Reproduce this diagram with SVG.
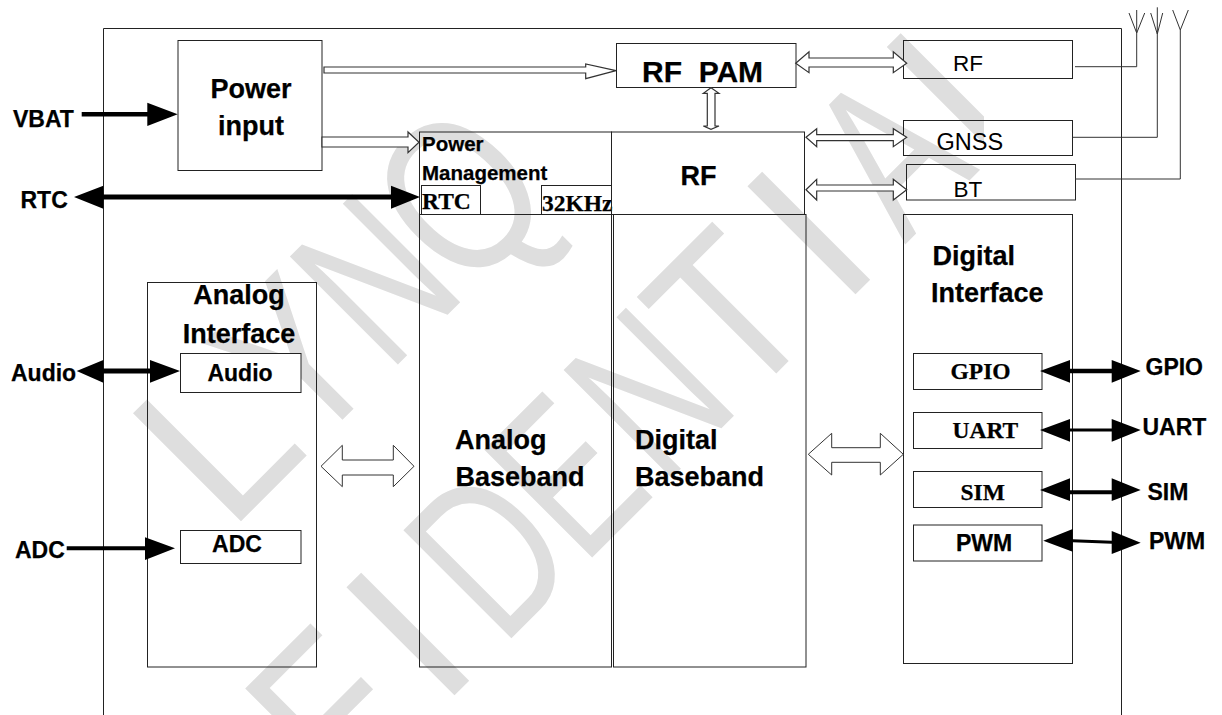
<svg xmlns="http://www.w3.org/2000/svg" width="1222" height="715" viewBox="0 0 1222 715">
<style>
rect,.box{fill:none;stroke:#222;stroke-width:1}
rect.o{fill:#fff}
.h{fill:#fff;stroke:#333;stroke-width:1.2}
.k{fill:#000;stroke:none}
.w{fill:none;stroke:#333;stroke-width:1}
text{font-family:"Liberation Sans",Arial,sans-serif;fill:#000;stroke:#000;stroke-width:.25}
text.wm{font-size:222px;fill:#dedede;stroke:none}
.b{font-weight:bold}
.s{font-family:"Liberation Serif","Times New Roman",serif;font-weight:bold;font-size:23.5px}
.f27{font-size:27px}.f23{font-size:23px}
</style>
<defs><clipPath id="wmclip"><rect x="0" y="0" width="984" height="715"/></clipPath></defs>
<g id="watermark" clip-path="url(#wmclip)">
<g transform="rotate(-45)">
<text class="wm" transform="translate(-215.400 539) scale(.95 1)">L</text>
<text class="wm" transform="translate(-103 539) scale(.76 1)">Y</text>
<text class="wm" transform="translate(10.600 539) scale(.71 1)">N</text>
<text class="wm" transform="translate(119.500 539) scale(.78 1)">Q</text>
<text class="wm" transform="translate(-329 813) scale(.85 1)">F</text>
<text class="wm" transform="translate(-190.600 813)">I</text>
<text class="wm" transform="translate(-103 813) scale(.73 1)">D</text>
<text class="wm" transform="translate(11.400 813) scale(.71 1)">E</text>
<text class="wm" transform="translate(124 813) scale(.71 1)">N</text>
<text class="wm" transform="translate(236 813) scale(.85 1)">T</text>
<text class="wm" transform="translate(376.500 813)">I</text>
<text class="wm" transform="translate(467 813) scale(.72 1)">A</text>
<text class="wm" transform="translate(576.600 813) scale(.95 1)">L</text>
</g>
</g>
<g id="module"><path class="box" d="M103.5 715V28.5H1121.5V715"/></g>
<g id="power-input"><rect x="178" y="40.5" width="144" height="130"/><text class="b f27" x="251" y="98" text-anchor="middle">Power</text><text class="b f27" x="251" y="135" text-anchor="middle">input</text></g>
<g id="rf-pam"><rect x="616.5" y="43.5" width="179.500" height="44"/><text class="b" font-size="30" x="642" y="81.500" xml:space="preserve">RF  PAM</text></g>
<g id="rf-out"><rect x="903.500" y="40.500" width="169" height="38"/><text font-size="22.500" x="953" y="71" style="stroke:none">RF</text></g>
<g id="gnss"><rect x="903.500" y="120.500" width="169" height="35"/><text font-size="23.500" x="936.500" y="150" style="stroke:none">GNSS</text></g>
<g id="bt"><rect x="906.500" y="164.500" width="169" height="35.500"/><text font-size="22.500" x="953.500" y="196.500" style="stroke:none">BT</text></g>
<g id="power-management"><rect x="419.500" y="132" width="192" height="82.500"/><text class="b" font-size="20.500" x="422" y="150.500">Power</text><text class="b" font-size="20.500" x="422" y="180">Management</text></g>
<g id="rtc-block"><rect class="o" x="421.500" y="185.500" width="59" height="29"/><text class="s" x="422" y="209">RTC</text></g>
<g id="khz-block"><rect class="o" x="541.500" y="185.500" width="70" height="29"/><text class="s" x="542" y="210.500">32KHz</text></g>
<g id="rf-core"><rect x="611.500" y="132" width="193" height="82.500"/><text class="b f27" x="680.500" y="185">RF</text></g>
<g id="analog-baseband"><rect x="419.500" y="214.500" width="192" height="452.500"/><text class="b f27" x="455" y="449">Analog</text><text class="b f27" x="455.500" y="486">Baseband</text></g>
<g id="digital-baseband"><rect x="613.500" y="214.500" width="192.500" height="452.500"/><text class="b f27" x="635" y="449">Digital</text><text class="b f27" x="635" y="486">Baseband</text></g>
<g id="analog-interface"><rect x="147.500" y="282.500" width="169" height="384.500"/><text class="b f27" x="239" y="304" text-anchor="middle">Analog</text><text class="b f27" x="239" y="342.500" text-anchor="middle">Interface</text></g>
<g id="audio-block"><rect class="o" x="180.500" y="353.500" width="120.500" height="39"/><text class="b f23" x="240" y="381" text-anchor="middle">Audio</text></g>
<g id="adc-block"><rect class="o" x="180.500" y="530.500" width="120.500" height="33"/><text class="b f23" x="237" y="552" text-anchor="middle">ADC</text></g>
<g id="digital-interface"><rect x="903.500" y="214.500" width="169" height="449"/><text class="b f27" x="932.500" y="265">Digital</text><text class="b f27" x="931" y="302">Interface</text></g>
<g id="gpio-block"><rect class="o" x="913.500" y="353.500" width="128.500" height="36"/><text class="s" x="950.500" y="379">GPIO</text></g>
<g id="uart-block"><rect class="o" x="913.500" y="412.500" width="128.500" height="36"/><text class="s" x="952.500" y="438">UART</text></g>
<g id="sim-block"><rect class="o" x="913.500" y="471.500" width="128.500" height="36"/><text class="s" x="960.500" y="499.500">SIM</text></g>
<g id="pwm-block"><rect class="o" x="913.500" y="525" width="128.500" height="36"/><text class="b f23" x="956" y="551">PWM</text></g>
<g id="labels">
<text class="b f23" x="13" y="127">VBAT</text>
<text class="b f23" x="20.500" y="208">RTC</text>
<text class="b f23" x="11" y="381">Audio</text>
<text class="b f23" x="15" y="557.500">ADC</text>
<text class="b f23" x="1145.500" y="375">GPIO</text>
<text class="b f23" x="1142.500" y="434.500">UART</text>
<text class="b f23" x="1147.500" y="499.500">SIM</text>
<text class="b f23" x="1149" y="548.500">PWM</text>
</g>
<g id="connectors">
<polygon class="h" points="324,67 585.700,67 585.700,64 616,70.700 585.700,78.700 585.700,73 324,73"/>
<polygon class="h" points="322,137 408,137 408,132 419,142.300 408,152.700 408,147 322,147"/>
<polygon class="h" points="795.700,63.300 809,51.700 809,58 893.300,58 893.300,51.700 906.700,63.300 893.300,72.700 893.300,67 809,67 809,72.700"/>
<polygon class="h" points="806,137.300 816.700,128.700 816.700,134.700 893.300,134.700 893.300,128.700 906.700,137.300 893.300,146.700 893.300,140.700 816.700,140.700 816.700,146.700"/>
<polygon class="h" points="806,189.700 816.700,179.300 816.700,185 893.300,185 893.300,179.300 906.700,189.700 893.300,200 893.300,191 816.700,191 816.700,200"/>
<polygon class="h" points="711,87.700 719,93.300 715,93.300 715,126 719,126 711,129.300 703.300,126 707.300,126 707.300,93.300 703.300,93.300"/>
<polygon class="h" style="stroke-width:1" points="321,466.300 342.300,445.300 342.300,460 393.300,460 393.300,445.300 414,466.300 393.300,486.700 393.300,475 342.300,475 342.300,486.700"/>
<polygon class="h" style="stroke-width:1" points="808.300,454.300 831.700,433.300 831.700,447.700 880.300,447.700 880.300,433.300 903.300,454.300 880.300,475 880.300,462.300 831.700,462.300 831.700,475"/>
<polygon class="k" points="81.700,112 147.300,112 147.300,102.700 177.700,114.300 147.300,126 147.300,116.500 81.700,116.500"/>
<polygon class="k" points="74,197 103.300,185.700 103.300,194.500 391,194.500 391,185.700 420,197 391,208.700 391,199.500 103.300,199.500 103.300,208.700"/>
<polygon class="k" points="76.700,371 103.300,360 103.300,368.500 150,368.500 150,360 180,371 150,382.700 150,373.500 103.300,373.500 103.300,382.700"/>
<polygon class="k" points="66.700,546.300 145,546.300 145,537.300 175,548.300 145,560 145,550.300 66.700,550.300"/>
<polygon class="k" points="1040,371 1070,360 1070,368.700 1111.700,368.700 1111.700,360 1140.700,371 1111.700,382.700 1111.700,373.300 1070,373.300 1070,382.700"/>
<polygon class="k" points="1040,430 1070,419 1070,428.500 1111.700,428.500 1111.700,419 1140.700,430 1111.700,441.700 1111.700,431.500 1070,431.500 1070,441.700"/>
<polygon class="k" points="1040,490 1070,478.300 1070,490.300 1111.700,490.300 1111.700,478.300 1140.700,490 1111.700,501 1111.700,494.300 1070,494.300 1070,501"/>
<polygon class="k" points="1043.300,540.700 1072.700,529 1072.700,539.300 1111.700,540.800 1111.700,531 1140.700,542.700 1111.700,554 1111.700,543.800 1072.700,542.300 1072.700,551.700"/>
<path class="w" d="M1075 66.700H1136.700V10M1129 13L1136.700 33L1144.700 13"/>
<path class="w" d="M1072.700 137.300H1157.300V7.300M1150.700 13L1157.300 34L1162.700 13"/>
<path class="w" d="M1075 179H1180.300V30M1172.700 10L1180.300 30L1188.300 10"/>
</g>
</svg>
